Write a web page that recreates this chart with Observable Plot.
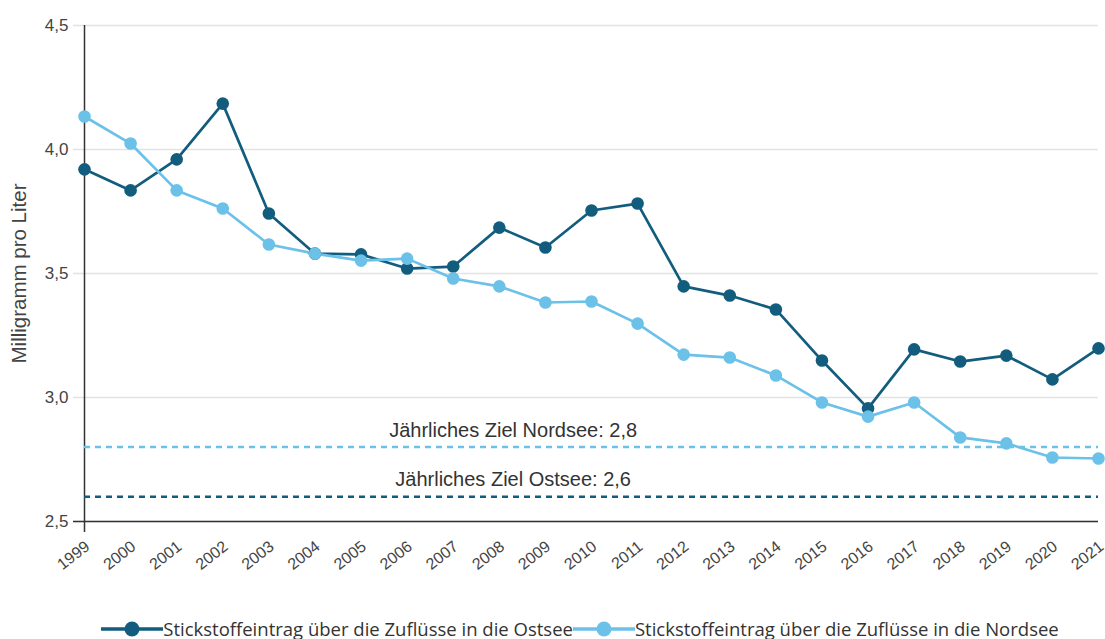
<!DOCTYPE html>
<html><head><meta charset="utf-8">
<script src="https://cdn.jsdelivr.net/npm/d3@7"></script>
<script src="https://cdn.jsdelivr.net/npm/@observablehq/plot@0.6"></script>
<style>
body{margin:0;background:#fff;font-family:"Liberation Sans",Arial,sans-serif;}
#legend{display:flex;justify-content:center;align-items:center;margin-top:36px;padding-left:55px;font-family:"Open Sans",sans-serif;font-size:18.5px;line-height:26px;color:#333;white-space:nowrap;}
#legend .item{display:flex;align-items:center;}
</style></head><body><div id="chart"></div><div id="legend"></div>
<script>
const years = [1999,2000,2001,2002,2003,2004,2005,2006,2007,2008,2009,2010,2011,2012,2013,2014,2015,2016,2017,2018,2019,2020,2021];
const ostsee = [3.92,3.835,3.96,4.185,3.742,3.58,3.577,3.52,3.528,3.685,3.605,3.754,3.782,3.448,3.411,3.355,3.149,2.956,3.194,3.145,3.169,3.073,3.198];
const nordsee = [4.133,4.024,3.835,3.762,3.617,3.58,3.552,3.56,3.48,3.448,3.383,3.387,3.298,3.173,3.161,3.089,2.98,2.923,2.98,2.839,2.815,2.758,2.754];
const seriesNames = ["Stickstoffeintrag über die Zuflüsse in die Ostsee","Stickstoffeintrag über die Zuflüsse in die Nordsee"];
const colors = ["#125d7e","#6cc1e8"];
const targetValues = [2.6, 2.8];
const targetLabels = ["Jährliches Ziel Ostsee: 2,6","Jährliches Ziel Nordsee: 2,8"];
const yTicks = [2.5,3,3.5,4,4.5];
const yLabel = "Milligramm pro Liter";
const labelYear = 2008.3;

const data = [];
years.forEach((y,i)=>{ data.push({year:y,value:ostsee[i],series:seriesNames[0]}); });
years.forEach((y,i)=>{ data.push({year:y,value:nordsee[i],series:seriesNames[1]}); });
const targets = targetValues.map((v,i)=>({value:v,label:targetLabels[i],color:colors[i],year:labelYear}));
const fmt = d => d.toFixed(1).replace(".",",");

const chart = Plot.plot({
  width:1105, height:580,
  marginLeft:84, marginRight:7, marginTop:25, marginBottom:59,
  style:{fontFamily:"'Liberation Sans', Arial, sans-serif", background:"#fff"},
  x:{domain:[1999,2021]},
  y:{domain:[2.5,4.5]},
  color:{domain:seriesNames, range:colors},
  marks:[
    Plot.gridY(yTicks,{stroke:"#e3e3e3",strokeOpacity:1,strokeWidth:1.5,insetLeft:-11}),
    Plot.axisY(yTicks,{tickSize:0,tickPadding:16,tickFormat:fmt,fontSize:17,fill:"#444",label:null}),
    Plot.text([yLabel],{frameAnchor:"left",rotate:-90,dx:-65,fontSize:20.5,fill:"#444",textAnchor:"middle"}),
    Plot.axisX(years,{tickSize:0,tickRotate:-38,tickPadding:0,dx:3,dy:23,tickFormat:d=>String(d),fontSize:16,fill:"#444",label:null}),
    Plot.ruleY([2.5],{stroke:"#333",strokeWidth:1.5,insetLeft:-11}),
    Plot.ruleX([1999],{stroke:"#333",strokeWidth:1.5,insetBottom:-11}),
    Plot.ruleY(targets,{y:"value",stroke:"color",strokeWidth:2.5,strokeDasharray:"6,5"}),
    Plot.text(targets,{x:"year",y:"value",text:"label",dy:-17,fontSize:20,fill:"#333",textAnchor:"middle"}),
    Plot.line(data,{x:"year",y:"value",stroke:"series",z:"series",strokeWidth:2.7}),
    Plot.dot(data,{x:"year",y:"value",fill:"series",r:6.3})
  ]
});
document.getElementById("chart").appendChild(chart);

const legend = document.getElementById("legend");
seriesNames.forEach((name,i)=>{
  const item = document.createElement("div");
  item.className="item";
  const ns="http://www.w3.org/2000/svg";
  const svg=document.createElementNS(ns,"svg");
  svg.setAttribute("width","62"); svg.setAttribute("height","18");
  const ln=document.createElementNS(ns,"line");
  ln.setAttribute("x1","0");ln.setAttribute("x2","62");ln.setAttribute("y1","9");ln.setAttribute("y2","9");
  ln.setAttribute("stroke",colors[i]);ln.setAttribute("stroke-width","3.5");
  const c=document.createElementNS(ns,"circle");
  c.setAttribute("cx","31");c.setAttribute("cy","9");c.setAttribute("r","7.5");c.setAttribute("fill",colors[i]);
  svg.appendChild(ln);svg.appendChild(c);
  const span=document.createElement("span");span.textContent=name;
  item.appendChild(svg);item.appendChild(span);
  legend.appendChild(item);
});
</script>
</body></html>
